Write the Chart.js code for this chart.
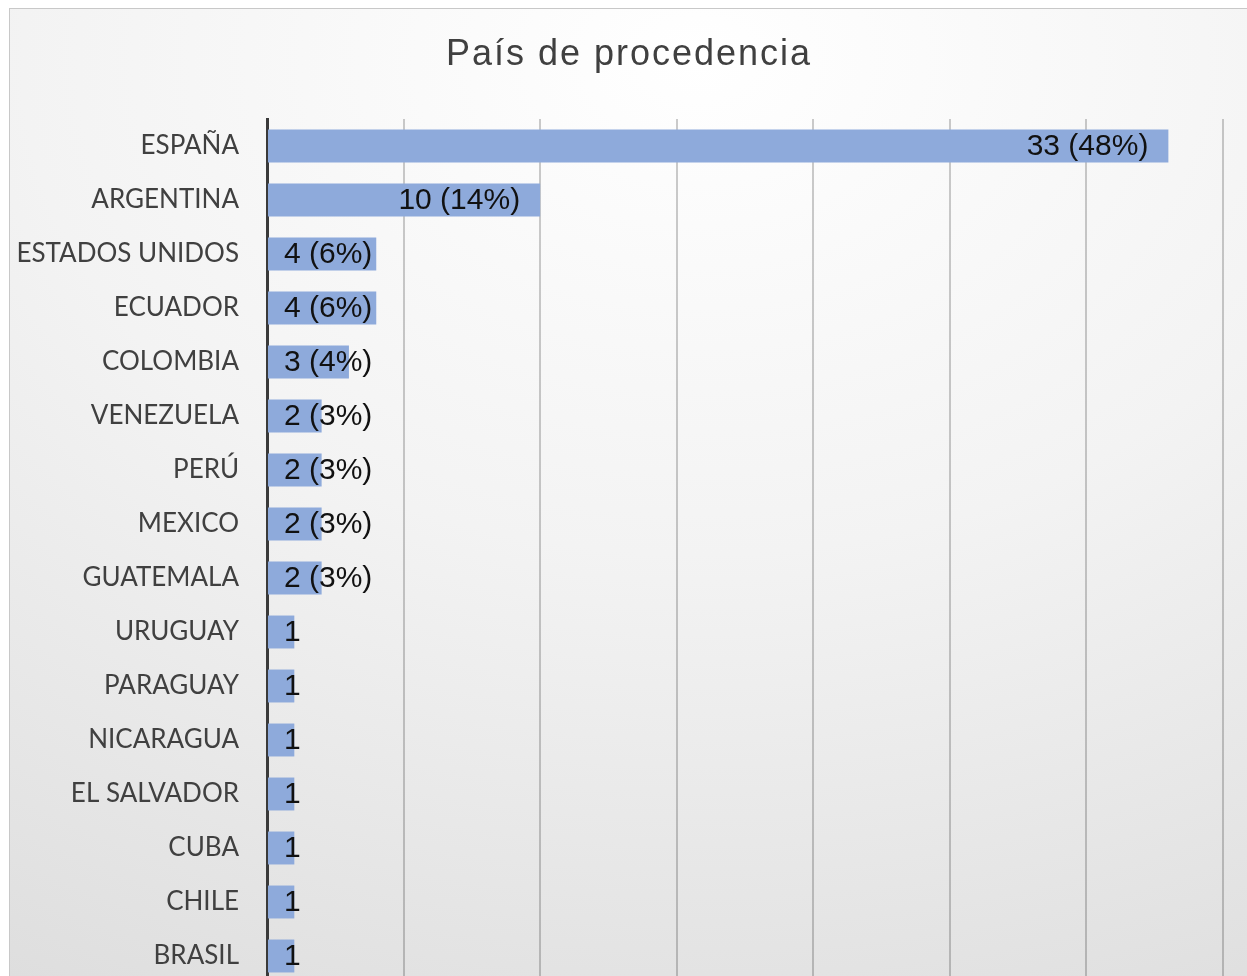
<!DOCTYPE html>
<html>
<head>
<meta charset="utf-8">
<script src="https://cdn.jsdelivr.net/npm/chart.js@4"></script>
<style>
  html, body { margin: 0; padding: 0; background: #fff; overflow: hidden; }
  body { width: 1247px; height: 976px; position: relative; }
  #marco {
    position: absolute; left: 9px; top: 8px; width: 1250px; height: 1000px;
    border-top: 1px solid #c8c8c8; border-left: 1px solid #c8c8c8;
    background: radial-gradient(ellipse 120% 110% at 55% 5%, #ffffff 0%, #f3f3f3 45%, #dcdcdc 100%);
  }
  #pais_procedencia { position: absolute; left: 9px; top: 8px; }
</style>
</head>
<body>
<div id="marco"></div>
<canvas id="pais_procedencia" width="1238" height="975"></canvas>
<script>
const titulo = "País de procedencia";
const paises = [
  "ESPAÑA", "ARGENTINA", "ESTADOS UNIDOS", "ECUADOR", "COLOMBIA",
  "VENEZUELA", "PERÚ", "MEXICO", "GUATEMALA", "URUGUAY",
  "PARAGUAY", "NICARAGUA", "EL SALVADOR", "CUBA", "CHILE", "BRASIL",
];
const frecuencia = [33, 10, 4, 4, 3, 2, 2, 2, 2, 1, 1, 1, 1, 1, 1, 1];
const porcentaje = [48, 14, 6, 6, 4, 3, 3, 3, 3, null, null, null, null, null, null, null];
const ticks_x = [0, 5, 10, 15, 20, 25, 30, 35];

// titulo centrado en todo el lienzo (el padding derecho lo descentraria)
const plugin_titulo = {
  id: "tituloCentrado",
  afterDraw: (chart) => {
    const ctx = chart.ctx;
    ctx.save();
    ctx.font = '36px "Liberation Sans", Arial, sans-serif';
    ctx.letterSpacing = "2px";
    ctx.fillStyle = "#404040";
    ctx.textAlign = "center";
    ctx.textBaseline = "alphabetic";
    ctx.fillText(titulo, chart.width / 2 + 1, 57);
    ctx.restore();
  },
};

// etiquetas tipo Excel: dentro del final de la barra, o al inicio si no caben
const plugin_etiquetas = {
  id: "etiquetasBarras",
  afterDatasetsDraw: (chart) => {
    const ctx = chart.ctx;
    const meta = chart.getDatasetMeta(0);
    const base = chart.scales.x.getPixelForValue(0);
    ctx.save();
    ctx.font = '30px "Liberation Sans", Arial, sans-serif';
    ctx.fillStyle = "#111";
    ctx.textBaseline = "middle";
    ctx.textAlign = "left";
    meta.data.forEach((bar, i) => {
      let texto = String(frecuencia[i]);
      if (porcentaje[i] != null) texto += " (" + porcentaje[i] + "%)";
      const ancho = ctx.measureText(texto).width;
      let x = bar.x - 20 - ancho;
      if (x < base + 17) x = base + 17;
      ctx.fillText(texto, x, bar.y + 1);
    });
    ctx.restore();
  },
};

const ctx = document.getElementById("pais_procedencia").getContext("2d");
const chart_pais = new Chart(ctx, {
  type: "bar",
  data: {
    labels: paises,
    datasets: [
      {
        label: "Frecuencia",
        data: frecuencia,
        backgroundColor: "#8eaadb",
        borderWidth: 0,
        categoryPercentage: 1,
        barPercentage: 0.61,
      },
    ],
  },
  options: {
    responsive: false,
    indexAxis: "y",
    animation: false,
    layout: { padding: { top: 111, right: 24, bottom: 0, left: 0 } },
    plugins: {
      title: { display: false },
      legend: { display: false },
      tooltip: { enabled: false },
    },
    scales: {
      x: {
        min: 0,
        max: 35,
        afterBuildTicks: (scale) => {
          scale.ticks = ticks_x.map((v) => ({ value: v }));
        },
        afterFit: (scale) => {
          scale.height = 0;
        },
        ticks: { display: false },
        grid: { color: "rgba(0,0,0,0.2)", lineWidth: 2, drawTicks: false },
        border: { display: false },
      },
      y: {
        afterFit: (scale) => {
          scale.width = 258;
          // el grafico original queda cortado abajo: sin margen extra
          scale.paddingTop = 0;
          scale.paddingBottom = 0;
        },
        ticks: {
          color: "#404040",
          padding: 28,
          font: { family: "Lato, 'Open Sans', sans-serif", size: 26 },
        },
        grid: { display: false, drawTicks: false },
        border: { color: "#3a3a3a", width: 3 },
      },
    },
  },
  plugins: [plugin_etiquetas, plugin_titulo],
});
</script>
</body>
</html>
